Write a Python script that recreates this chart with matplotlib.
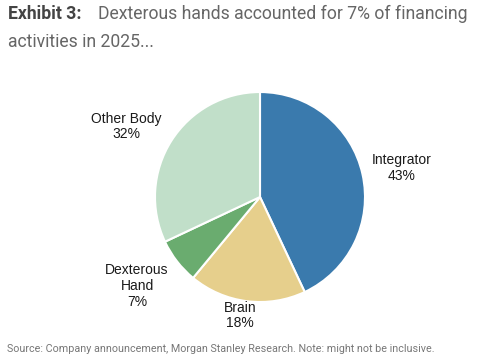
import matplotlib
matplotlib.use("Agg")
import matplotlib.pyplot as plt

labels = ["Integrator", "Brain", "Dexterous\nHand", "Other Body"]
shares = [43, 18, 7, 32]
colors = ["#3a7aad", "#e6cf8c", "#6aac6f", "#c1dfc9"]
# label anchors, in pie radii from the centre (layout only)
label_xy = [(1.348, 0.276), (-0.19, -1.129), (-1.171, -0.848), (-1.276, 0.671)]

plt.rcParams["font.family"] = ["Roboto", "DejaVu Sans"]

fig = plt.figure(figsize=(5, 3.63), dpi=100)
ax = fig.add_axes([0.310, 0.168, 0.42, 0.5785])

wedges, _ = ax.pie(shares, colors=colors, startangle=90, counterclock=False,
                   wedgeprops=dict(edgecolor="white", linewidth=1.5))
ax.set_xlim(-1, 1)
ax.set_ylim(-1, 1)
ax.set_aspect("equal")
ax.axis("off")

for lab, val, (x, y) in zip(labels, shares, label_xy):
    ax.text(x, y, f"{lab}\n{val}%", ha="center", va="center", fontsize=10,
            family=["Liberation Sans", "DejaVu Sans"], color="#1a1a1a",
            linespacing=1.15, clip_on=False)

fig.text(0.016, 0.948, "Exhibit 3:", fontsize=12.7, fontweight="bold",
         color="#444444", va="baseline")
fig.text(0.196, 0.948, "Dexterous hands accounted for 7% of financing",
         fontsize=12.7, color="#666666", va="baseline")
fig.text(0.016, 0.871, "activities in 2025...", fontsize=12.7,
         color="#666666", va="baseline")
fig.text(0.014, 0.030, "Source: Company announcement, Morgan Stanley Research. Note: might not be inclusive.",
         fontsize=7.75, color="#777777", va="baseline")

fig.savefig("out.png", dpi=100, facecolor="white")
